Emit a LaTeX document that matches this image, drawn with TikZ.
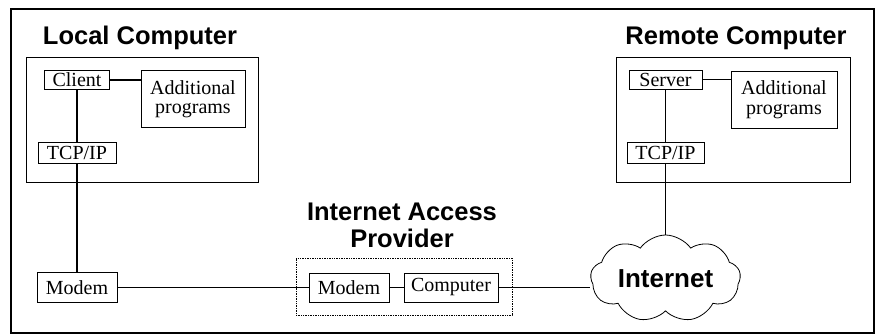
\documentclass[tikz,border=0pt]{standalone}
\usepackage{fontspec}
\setmainfont{Liberation Serif}
\setsansfont{Liberation Sans}
\usepackage{tikz}
\usetikzlibrary{shapes,shapes.symbols,positioning,fit}

\begin{document}
\begin{tikzpicture}[
  x=1pt, y=1pt,
  every node/.style={font=\fontsize{20}{19.5}\selectfont},
  wire/.style={line width=1.3pt},
  box/.style={
    draw,
    line width=0.8pt,
    align=center,
    inner sep=0pt
  },
  pcbox/.style={draw, line width=0.6pt, inner sep=0pt},
  iapbox/.style={draw, densely dotted, line width=0.7pt, inner sep=0pt},
  title/.style={font=\sffamily\bfseries\fontsize{25.5}{27}\selectfont, align=center},
  netcloud/.style={cloud, cloud puffs=9, cloud puff arc=110, cloud ignores aspect,
    draw, line width=0.8pt, fill=white, minimum width=150pt, minimum height=87pt,
    inner sep=0pt, font=\sffamily\bfseries\fontsize{26}{27}\selectfont}
]
\useasboundingbox (0,0) rectangle (880,335);

% outer frame
\node[draw, line width=1.3pt, minimum width=863pt, minimum height=324pt, inner sep=0pt]
  (frame) at (442.5,164) {};

% local computer
\node[title, anchor=base] (localtitle) at (140,290) {Local Computer};
\node[pcbox, minimum width=232pt, minimum height=125pt] (localpc) at (142,215.5) {};
\node[box, minimum width=65pt, minimum height=19pt] (client) at (77,255) {Client};
\node[box, minimum width=104pt, minimum height=57pt] (addlL) at (193,236) {Additional\\programs};
\node[box, minimum width=78pt, minimum height=21pt] (tcpL) at (77,182.5) {TCP/IP};
\node[box, minimum width=80pt, minimum height=30pt] (modemL) at (77,47.5) {Modem};

% internet access provider
\node[title] (iaptitle) at (402,110) {Internet Access\\Provider};
\node[iapbox, minimum width=216pt, minimum height=57pt] (iap) at (404,48.5) {};
\node[box, minimum width=80pt, minimum height=29pt] (modemI) at (349,47.5) {Modem};
\node[box, minimum width=94pt, minimum height=29pt] (computer) at (451,47.5) {Computer};

% remote computer
\node[title, anchor=base] (remotetitle) at (736,290) {Remote Computer};
\node[pcbox, minimum width=234pt, minimum height=125pt] (remotepc) at (733,215.5) {};
\node[box, minimum width=73pt, minimum height=19pt] (server) at (665.5,255.5) {Server};
\node[box, minimum width=106pt, minimum height=57pt] (addlR) at (784,235.5) {Additional\\programs};
\node[box, minimum width=77pt, minimum height=21pt] (tcpR) at (665.5,182.5) {TCP/IP};

% the internet
\node[netcloud] (internet) at (665.5,56.5) {Internet};

\draw[wire] (client) -- (addlL.west |- client);
\draw[wire] (client) -- (tcpL);
\draw[wire] (tcpL) -- (modemL);
\draw[wire] (modemL) -- (modemI);
\draw[wire] (modemI) -- (computer);
\draw[wire] (computer) -- (internet.west |- computer);
\draw[wire] (server) -- (addlR.west |- server);
\draw[wire] (server) -- (tcpR);
\draw[wire] (tcpR) -- (internet);

\end{tikzpicture}
\end{document}
